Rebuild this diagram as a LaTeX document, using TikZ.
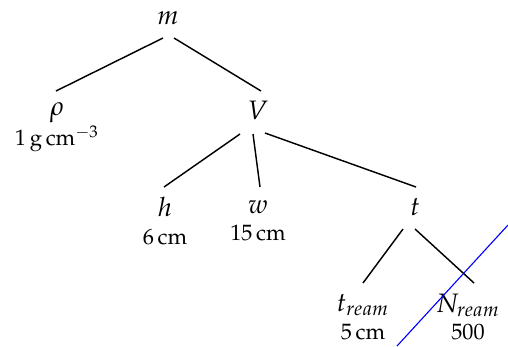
\documentclass[tikz,border=0pt]{standalone}
\usepackage[T1]{fontenc}
\usepackage{mathpazo}
\usetikzlibrary{positioning}

\newcommand{\symb}[1]{{\large$#1$}}

\begin{document}
\begin{tikzpicture}[
    x=0.45pt, y=-0.45pt,
    treenode/.style={inner sep=0pt, align=center},
    treeedge/.style={draw=black, line width=0.65pt},
    cutline/.style={draw=blue, line width=0.5pt},
]
\useasboundingbox (0,0) rectangle (508,346);

% =====================================================
% Nodes of the tree
% =====================================================
\node[treenode] (m) at (168,18) {\symb{m}};

\node[treenode] (rho) at (57,127) {\symb{\rho}\\[0.4pt]1\,g\,cm$^{-3}$};
\node[treenode] (V) at (258,110) {\symb{V}};

\node[treenode] (h) at (165,221) {\symb{h}\\[0.4pt]6\,cm};
\node[treenode] (w) at (258,221) {\symb{w}\\[0.4pt]15\,cm};
\node[treenode] (t) at (415,207) {\symb{t}};

\node[treenode] (tream) at (363,317) {\symb{t_{ream}}\\[0.4pt]5\,cm};
\node[treenode] (Nream) at (468,317) {\symb{N_{ream}}\\[0.4pt]500};

% =====================================================
% Edges
% =====================================================
\draw[treeedge] ([shift={(-5,20)}]m.center) -- ([shift={(-1,-36)}]rho.center);
\draw[treeedge] ([shift={(6,20)}]m.center) -- ([shift={(3,-19)}]V.center);

\draw[treeedge] ([shift={(-18,24)}]V.center) -- ([shift={(-1,-34)}]h.center);
\draw[treeedge] ([shift={(-5,24)}]V.center) -- ([shift={(2,-34)}]w.center);
\draw[treeedge] ([shift={(7,23)}]V.center) -- ([shift={(1,-20)}]t.center);

\draw[treeedge] ([shift={(-12,22)}]t.center) -- ([shift={(0,-34)}]tream.center);
\draw[treeedge] ([shift={(0,22)}]t.center) -- ([shift={(6,-34)}]Nream.center);

% --- blue cut line ---
\draw[cutline] (397,346) -- (508,225);

\end{tikzpicture}
\end{document}
